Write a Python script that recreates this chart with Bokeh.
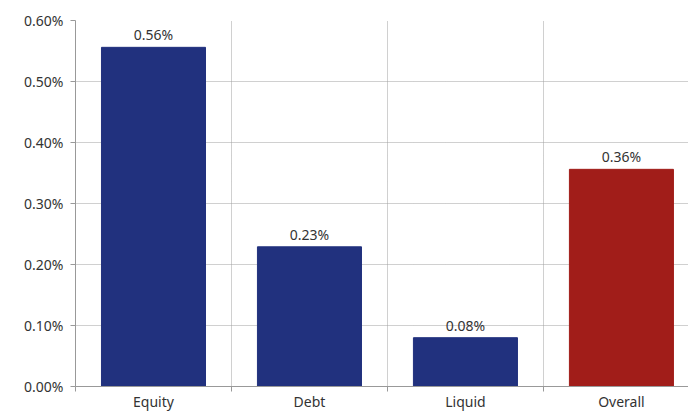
from bokeh.plotting import figure
from bokeh.models import ColumnDataSource, FixedTicker, PrintfTickFormatter, LabelSet, Range1d
from bokeh.core.properties import value
from bokeh.embed import file_html
from bokeh.resources import INLINE

categories = ["Equity", "Debt", "Liquid", "Overall"]
values = [0.556, 0.229, 0.080, 0.356]
colors = ["#21317e", "#21317e", "#21317e", "#a11d19"]

xs = [i + 0.5 for i in range(len(categories))]
labels = [f"{v:.2f}%" for v in values]
src = ColumnDataSource(dict(x=xs, top=values, color=colors, label=labels))

p = figure(width=688, height=413, output_backend="svg", toolbar_location=None,
           x_range=Range1d(0, 3.93), y_range=Range1d(0, 0.6),
           min_border_left=75, min_border_right=0, min_border_top=20, min_border_bottom=26)
p.outline_line_color = None
p.background_fill_color = "white"

p.vbar(x="x", top="top", width=0.667, color="color", source=src)

p.add_layout(LabelSet(x="x", y="top", text="label", source=src, text_align="center",
                      text_baseline="bottom", y_offset=3, text_font=value("Noto Sans"),
                      text_font_size="14px", text_color="#333333"))

p.xaxis.ticker = FixedTicker(ticks=xs, minor_ticks=[0, 1, 2, 3, 4])
p.xaxis.major_label_overrides = {x: c for x, c in zip(xs, categories)}
p.xaxis.major_tick_line_color = None
p.xaxis.major_tick_out = 0
p.xaxis.major_tick_in = 0
p.xaxis.minor_tick_out = 5
p.xaxis.minor_tick_in = 0
p.xaxis.minor_tick_line_color = "#999999"
p.xaxis.axis_line_color = "#999999"
p.xaxis.major_label_standoff = 0

p.yaxis.ticker = FixedTicker(ticks=[0, 0.1, 0.2, 0.3, 0.4, 0.5, 0.6])
p.yaxis.formatter = PrintfTickFormatter(format="%.2f%%")
p.yaxis.major_tick_out = 5
p.yaxis.major_tick_in = 0
p.yaxis.minor_tick_line_color = None
p.yaxis.major_tick_line_color = "#999999"
p.yaxis.axis_line_color = "#999999"
p.yaxis.major_label_standoff = 7

for ax in (p.xaxis, p.yaxis):
    ax.major_label_text_font = "Noto Sans"
    ax.major_label_text_font_size = "14px"
    ax.major_label_text_color = "#333333"

p.xgrid.grid_line_color = None
p.xgrid.minor_grid_line_color = "#a0a0a0"
p.xgrid.minor_grid_line_dash = "1 1"
p.ygrid.grid_line_color = "#a0a0a0"
p.ygrid.grid_line_dash = "1 1"

open("out.html", "w").write(file_html(p, INLINE))
